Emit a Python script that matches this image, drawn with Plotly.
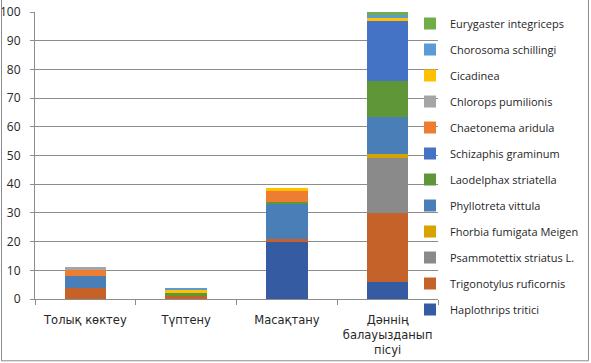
import plotly.graph_objects as go

categories = ["Толық көктеу", "Түптену", "Масақтану", "Дәннің<br>балауызданып<br>пісуі"]

series_names = [
    "Haplothrips tritici",
    "Trigonotylus ruficornis",
    "Psammotettix striatus L.",
    "Fhorbia fumigata Meigen",
    "Phyllotreta vittula",
    "Laodelphax striatella",
    "Schizaphis graminum",
    "Chaetonema aridula",
    "Chlorops pumilionis",
    "Cicadinea",
    "Chorosoma schillingi",
    "Eurygaster integriceps",
]

haplothrips = [0, 0, 20, 6]
trigonotylus = [4, 1, 1, 24]
psammotettix = [0, 0, 0, 19]
fhorbia = [0, 0, 0, 1.5]
phyllotreta = [4, 0, 12, 13]
laodelphax = [0, 1, 0.7, 12.5]
schizaphis = [0, 0, 0, 21]
chaetonema = [2, 0, 4, 0]
chlorops = [1, 0, 0, 0]
cicadinea = [0, 1, 1, 1]
chorosoma = [0, 1, 0, 1]
eurygaster = [0, 0, 0, 1]

series_values = [haplothrips, trigonotylus, psammotettix, fhorbia, phyllotreta,
                 laodelphax, schizaphis, chaetonema, chlorops, cicadinea,
                 chorosoma, eurygaster]

colors = ["#355CA3", "#C5622A", "#8A8A8A", "#D6A300", "#4A7EB7", "#5E9638",
          "#4472C4", "#ED7D31", "#A5A5A5", "#FFC000", "#5B9BD5", "#70AD47"]

y_ticks = [0, 10, 20, 30, 40, 50, 60, 70, 80, 90, 100]

FONT = "Open Sans, Noto Sans, sans-serif"
XFONT = "DejaVu Sans, sans-serif"
GRID = "#8C8C8C"
TXT = "#262626"

n = len(series_names)
fig = go.Figure()
for i, (name, vals) in enumerate(zip(series_names, series_values)):
    fig.add_trace(go.Bar(
        x=categories, y=vals, name=name, marker_color=colors[i],
        marker_line_width=0, width=0.41, legendgroup=name,
        legendrank=n - i,
    ))

W, H = 591, 363
L, R, T, B = 35, 153, 11.5, 63.5
PW, PH = W - L - R, H - T - B

fig.update_layout(
    width=W, height=H,
    barmode="stack",
    margin=dict(l=L, r=R, t=T, b=B, autoexpand=False),
    paper_bgcolor="white", plot_bgcolor="white",
    font=dict(family=FONT, size=11, color=TXT),
    showlegend=True,
    legend=dict(
        traceorder="grouped", x=(410 - L) / PW, xanchor="left",
        y=1.0 + 3 / PH, yanchor="top",
        font=dict(family=FONT, size=11, color=TXT),
        tracegroupgap=7, itemwidth=30, bgcolor="rgba(0,0,0,0)",
        maxheight=360,
    ),
    xaxis=dict(
        showline=True, linecolor=GRID, linewidth=1, automargin=False,
        ticks="outside", tickson="boundaries", ticklen=5, tickcolor=GRID,
        ticklabelstandoff=10, tickangle=0,
        showgrid=False, tickfont=dict(family=XFONT, size=11.5, color=TXT),
    ),
    yaxis=dict(
        range=[0, 100], tickvals=y_ticks, showline=True, linecolor=GRID, linewidth=1,
        ticks="outside", ticklen=4, tickcolor=GRID, automargin=False,
        ticklabelstandoff=7,
        showgrid=True, gridcolor=GRID, gridwidth=1, zeroline=False,
        tickfont=dict(size=12, color=TXT),
    ),
    shapes=[dict(
        type="rect", xref="paper", yref="paper",
        x0=(-L + 1.5) / PW, x1=(W - L - 2.5) / PW,
        y0=-(B - 1.5) / PH, y1=(H - T - 1.5) / PH,
        line=dict(color=GRID, width=1), fillcolor="rgba(0,0,0,0)",
    )],
)

fig.write_html("out.html", config={"displayModeBar": False},
               post_script="document.body.style.margin='0';")
